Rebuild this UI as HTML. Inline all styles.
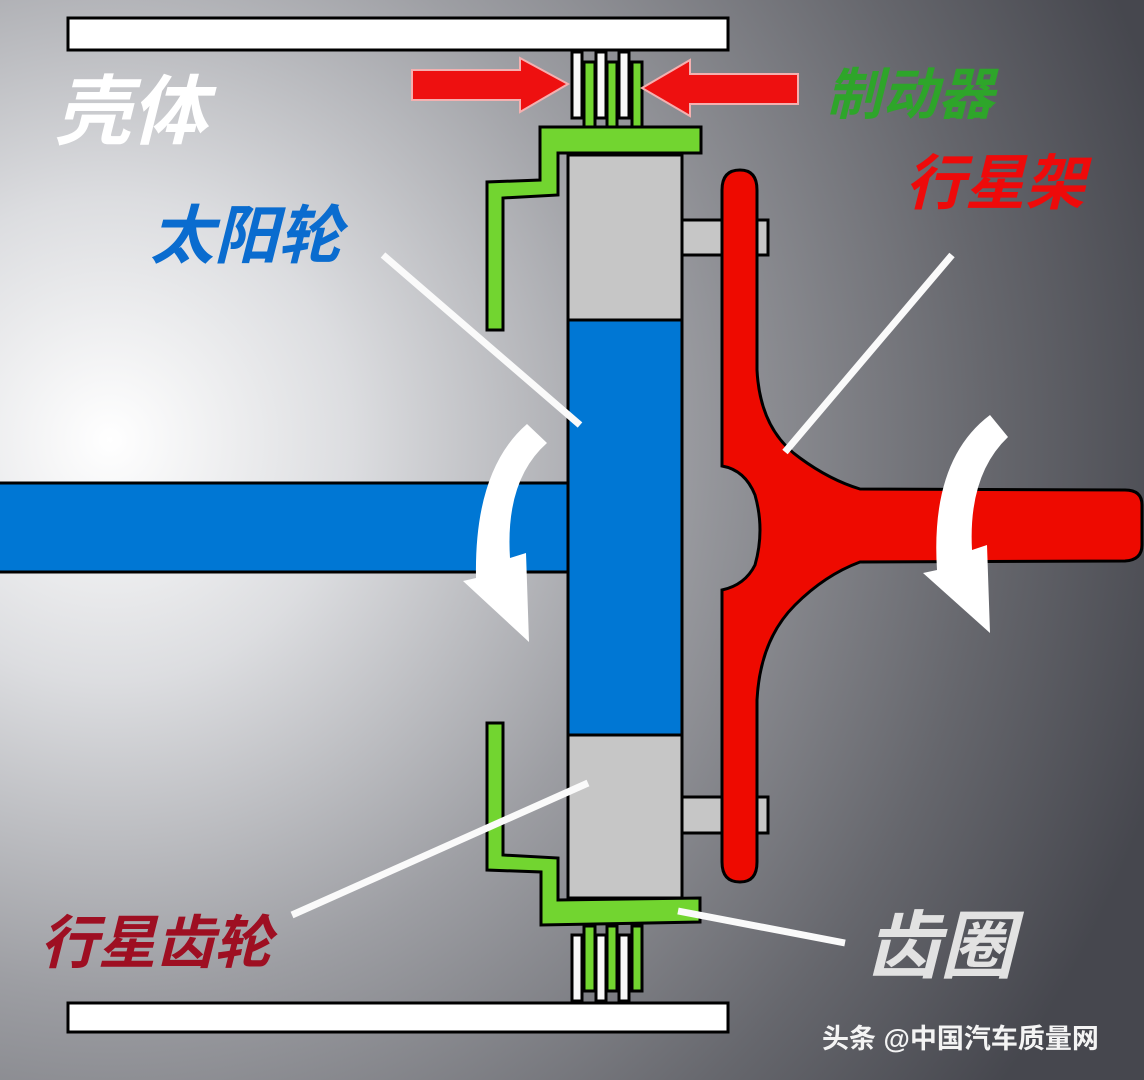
<!DOCTYPE html>
<html><head><meta charset="utf-8"><style>
html,body{margin:0;padding:0;width:1144px;height:1080px;overflow:hidden}
svg{display:block}
text{font-family:"Liberation Sans","Noto Sans CJK SC",sans-serif;font-style:italic;font-weight:bold}
</style></head><body>
<svg width="1144" height="1080" viewBox="0 0 1144 1080" xmlns="http://www.w3.org/2000/svg">
<defs>
<radialGradient id="bg" cx="110" cy="440" r="1100" gradientUnits="userSpaceOnUse">
<stop offset="0" stop-color="#ffffff"/>
<stop offset="0.22" stop-color="#dcdde0"/>
<stop offset="0.5" stop-color="#9d9ea3"/>
<stop offset="0.8" stop-color="#66676d"/>
<stop offset="1" stop-color="#46474e"/>
</radialGradient>
</defs>
<rect width="1144" height="1080" fill="url(#bg)"/>
<g stroke="#000" stroke-width="3">
<rect x="68" y="18" width="660" height="32" fill="#fff"/>
<rect x="68" y="1003" width="660" height="29" fill="#fff"/>
<rect x="572" y="52" width="10" height="66" fill="#f8f8f8"/>
<rect x="596" y="52" width="10" height="66" fill="#f8f8f8"/>
<rect x="619" y="52" width="10" height="66" fill="#f8f8f8"/>
<rect x="584" y="62" width="11" height="66" fill="#72d530"/>
<rect x="607" y="62" width="10" height="66" fill="#72d530"/>
<rect x="632" y="62" width="10" height="66" fill="#72d530"/>
<rect x="572" y="935" width="10" height="66" fill="#f8f8f8"/>
<rect x="596" y="935" width="10" height="66" fill="#f8f8f8"/>
<rect x="619" y="935" width="10" height="66" fill="#f8f8f8"/>
<rect x="584" y="926" width="11" height="65" fill="#72d530"/>
<rect x="607" y="926" width="10" height="65" fill="#72d530"/>
<rect x="632" y="926" width="10" height="65" fill="#72d530"/>
<polygon points="540,127 701,127 701,153 558,153 558,195 503,198 503,330 487,330 487,182 540,180" fill="#72d530"/>
<polygon points="487,723 503,723 503,855 558,858 558,900 700,898 700,922 541,925 541,872 487,870" fill="#72d530"/>
<rect x="680" y="220" width="88" height="35" fill="#c6c6c6"/>
<rect x="680" y="797" width="88" height="36" fill="#c6c6c6"/>
<rect x="568" y="155" width="114" height="165" fill="#c6c6c6"/>
<rect x="568" y="735" width="114" height="163" fill="#c6c6c6"/>
<rect x="568" y="320" width="114" height="415" fill="#0077d4"/>
<rect x="-5" y="483" width="573" height="89" fill="#0077d4"/>
<path d="M722 190 Q722 170 740 170 Q757 170 757 190 L757 370 Q760 430 800 458 Q830 480 860 489 L1125 490 Q1142 490 1142 505 L1142 545 Q1142 560 1125 561 L860 562 Q825 575 795 605 Q760 640 757 700 L757 862 Q757 882 740 882 Q722 882 722 862 L722 590 Q745 585 755 565 Q765 530 755 495 Q745 470 722 466 Z" fill="#ee0a00"/>
</g>
<polygon points="412,70 520,70 520,58 568,84 520,112 520,100 412,100" fill="#ee1010" stroke="#f4b0b0" stroke-width="2"/>
<polygon points="798,74 690,74 690,60 642,88 690,116 690,104 798,104" fill="#ee1010" stroke="#f4b0b0" stroke-width="2"/>
<path d="M527 424 Q474 470 476 578 L463 581 L529 642 L526 553 L510 558 Q505 480 547 443 Z" fill="#fff"/>
<path d="M990 415 Q930 460 937 570 L923 573 L990 633 L987 545 L972 550 Q968 475 1008 437 Z" fill="#fff"/>
<g stroke="#fafafa" stroke-width="7">
<line x1="383" y1="255" x2="580" y2="425"/>
<line x1="952" y1="255" x2="785" y2="452"/>
<line x1="292" y1="915" x2="588" y2="783"/>
<line x1="678" y1="911" x2="845" y2="943"/>
</g>
<text x="55" y="138" font-size="76" fill="#fff">壳体</text>
<text x="826" y="114" font-size="56" fill="#2ea52a">制动器</text>
<text x="905" y="204" font-size="60" fill="#ee0a0a">行星架</text>
<text x="150" y="258" font-size="64" fill="#0a6ccf">太阳轮</text>
<text x="40" y="963" font-size="58" fill="#9e0f22">行星齿轮</text>
<text x="866" y="972" font-size="74" fill="#e2e2e2">齿圈</text>
<text x="822" y="1048" font-size="27" fill="#f4f4f4" style="font-style:normal">头条 @中国汽车质量网</text>
</svg>
</body></html>
